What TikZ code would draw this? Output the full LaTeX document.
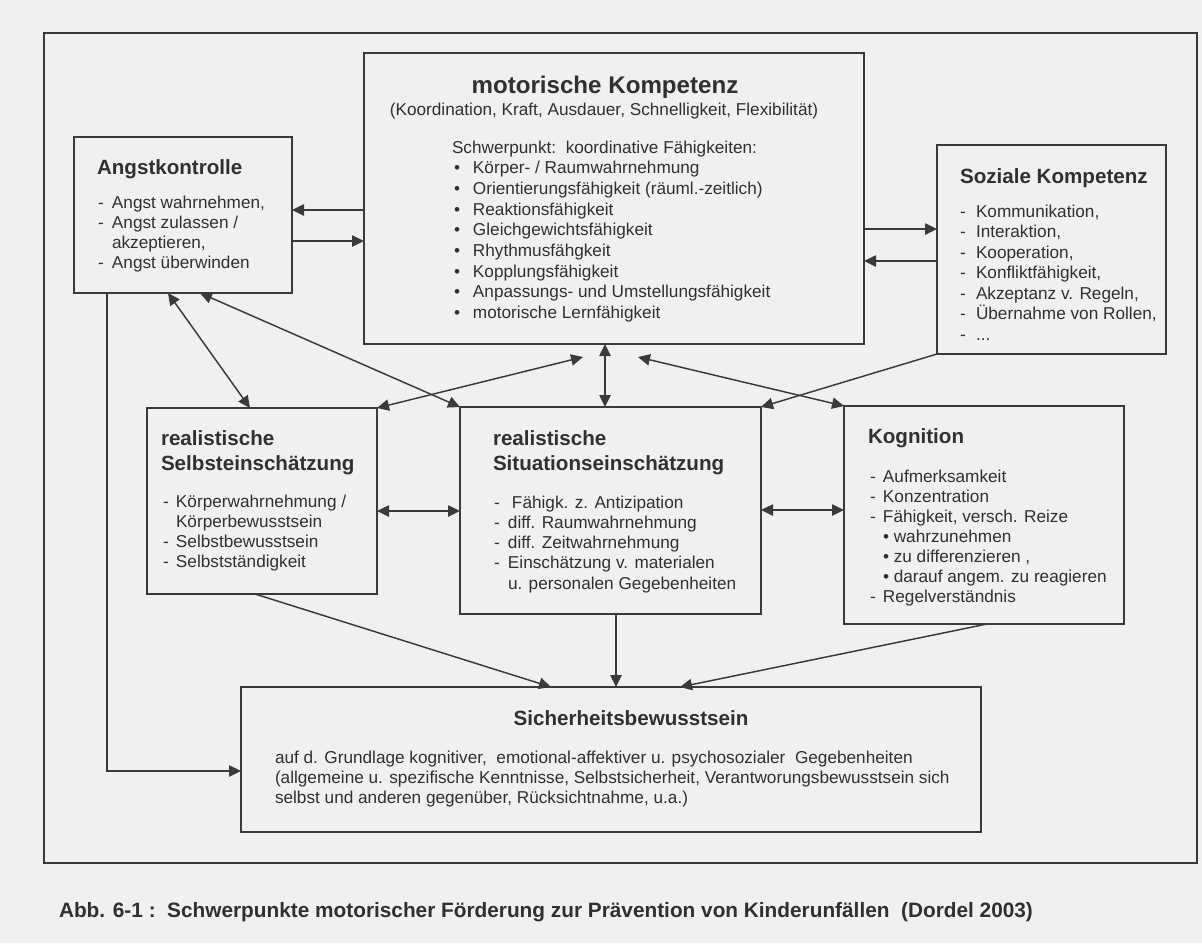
\documentclass[tikz,border=0pt]{standalone}
\usepackage{fontspec}
\setmainfont{Liberation Sans}
\usetikzlibrary{arrows.meta,fit,calc}
\definecolor{paper}{RGB}{240,240,240}
\definecolor{ink}{RGB}{48,48,48}
\definecolor{rule}{RGB}{58,58,58}
% fixed-width lead (dash or bullet) in front of a list line
\newcommand\itm[2]{\makebox[#1][l]{#2}}
\tikzset{
  box/.style={draw=rule, line width=1.2pt, inner sep=0pt, outer sep=0pt},
  outerframe/.style={draw=rule, line width=1.6pt, inner sep=0pt, outer sep=0pt},
  txt/.style={inner sep=0pt, outer sep=0pt, anchor=base west, text=ink,
              font=\fontsize{12.9pt}{15.5pt}\selectfont},
  head/.style={txt, font=\fontsize{15.45pt}{18pt}\selectfont\bfseries},
  bighead/.style={txt, anchor=base, font=\fontsize{18.1pt}{22pt}\selectfont\bfseries},
  conn/.style={draw=rule, line width=1.1pt},
  arr/.style={conn, -{Triangle[length=9pt,width=8.5pt]}},
  darr/.style={conn, {Triangle[length=9pt,width=8.5pt]}-{Triangle[length=9pt,width=8.5pt]}},
}
\begin{document}
\begin{tikzpicture}[x=0.75pt,y=-0.75pt]
\fill[paper] (0,0) rectangle (1202,943);
\useasboundingbox (0,0) rectangle (1202,943);

% frame and boxes
\node[outerframe, fit={(44,33) (1197,863)}] (frm) {};
\node[box, fit={(364,53) (864,344)}] (mk) {};
\node[box, fit={(74,137) (292,293)}] (ak) {};
\node[box, fit={(937,145) (1166,354)}] (sk) {};
\node[box, fit={(147,408) (377,594)}] (se) {};
\node[box, fit={(460,407) (761,614)}] (si) {};
\node[box, fit={(844,406) (1124,624)}] (kg) {};
\node[box, fit={(241,687) (981,832)}] (sb) {};

% motorische Kompetenz
\node[bighead] (mkT) at (605,93) {motorische Kompetenz};
\node[txt, anchor=base] (mkS) at (604,115) {(Koordination, Kraft, Ausdauer, Schnelligkeit, Flexibilität)};
\node[txt] (mkH) at (452,153) {Schwerpunkt:\ \ koordinative Fähigkeiten:};
\foreach \t [count=\i from 0] in {Körper- / Raumwahrnehmung, Orientierungsfähigkeit (räuml.-zeitlich), Reaktionsfähigkeit, Gleichgewichtsfähigkeit, Rhythmusfähgkeit, Kopplungsfähigkeit, Anpassungs- und Umstellungsfähigkeit, motorische Lernfähigkeit}
  \node[txt] (mk\i) at (454,173.7+20.7*\i) {\itm{14.25pt}{•}\t};

% Angstkontrolle
\node[head] (akT) at (97,174) {Angstkontrolle};
\node[txt] (ak0) at (98,208) {\itm{10.5pt}{-}Angst wahrnehmen,};
\node[txt] (ak1) at (98,228) {\itm{10.5pt}{-}Angst zulassen /};
\node[txt] (ak2) at (98,248) {\itm{10.5pt}{}akzeptieren,};
\node[txt] (ak3) at (98,268) {\itm{10.5pt}{-}Angst überwinden};

% Soziale Kompetenz
\node[head] (skT) at (960,183) {Soziale Kompetenz};
\node[txt] (sk0) at (960,217)   {\itm{12pt}{-}Kommunikation,};
\node[txt] (sk1) at (960,237.5) {\itm{12pt}{-}Interaktion,};
\node[txt] (sk2) at (960,258)   {\itm{12pt}{-}Kooperation,};
\node[txt] (sk3) at (960,278.5) {\itm{12pt}{-}Konfliktfähigkeit,};
\node[txt] (sk4) at (960,299)   {\itm{12pt}{-}Akzeptanz v. Regeln,};
\node[txt] (sk5) at (960,319.5) {\itm{12pt}{-}Übernahme von Rollen,};
\node[txt] (sk6) at (960,340)   {\itm{12pt}{-}...};

% realistische Selbsteinschätzung
\node[head] (seT1) at (161,445) {realistische};
\node[head] (seT2) at (161,470) {Selbsteinschätzung};
\node[txt] (se0) at (163,507) {\itm{9.75pt}{-}Körperwahrnehmung /};
\node[txt] (se1) at (163,527) {\itm{9.75pt}{}Körperbewusstsein};
\node[txt] (se2) at (163,547) {\itm{9.75pt}{-}Selbstbewusstsein};
\node[txt] (se3) at (163,567) {\itm{9.75pt}{-}Selbstständigkeit};

% realistische Situationseinschätzung
\node[head] (siT1) at (493,445) {realistische};
\node[head] (siT2) at (493,470) {Situationseinschätzung};
\node[txt] (si0) at (494,508)   {\itm{13.5pt}{-}Fähigk. z. Antizipation};
\node[txt] (si1) at (494,528.3) {\itm{10.5pt}{-}diff. Raumwahrnehmung};
\node[txt] (si2) at (494,548.5) {\itm{10.5pt}{-}diff. Zeitwahrnehmung};
\node[txt] (si3) at (494,568.8) {\itm{10.5pt}{-}Einschätzung v. materialen};
\node[txt] (si4) at (494,589)   {\itm{10.5pt}{}u. personalen Gegebenheiten};

% Kognition
\node[head] (kgT) at (868,443) {Kognition};
\node[txt] (kg0) at (870,482)   {\itm{9.75pt}{-}Aufmerksamkeit};
\node[txt] (kg1) at (870,502.2) {\itm{9.75pt}{-}Konzentration};
\node[txt] (kg2) at (870,522.3) {\itm{9.75pt}{-}Fähigkeit, versch. Reize};
\node[txt] (kg3) at (870,542.5) {\itm{9.75pt}{}• wahrzunehmen};
\node[txt] (kg4) at (870,562.6) {\itm{9.75pt}{}• zu differenzieren ,};
\node[txt] (kg5) at (870,582.8) {\itm{9.75pt}{}• darauf angem. zu reagieren};
\node[txt] (kg6) at (870,602.9) {\itm{9.75pt}{-}Regelverständnis};

% Sicherheitsbewusstsein
\node[head, anchor=base] (sbT) at (631,725) {Sicherheitsbewusstsein};
\node[txt] (sb0) at (275,763) {auf d. Grundlage kognitiver,\ \ emotional-affektiver u. psychosozialer\ \ Gegebenheiten};
\node[txt] (sb1) at (275,783) {(allgemeine u. spezifische Kenntnisse, Selbstsicherheit, Verantworungsbewusstsein sich};
\node[txt] (sb2) at (275,803) {selbst und anderen gegenüber, Rücksichtnahme, u.a.)};

% caption
\node[txt, font=\fontsize{15.6pt}{18pt}\selectfont\bfseries] (cap) at (59,917)
  {Abb. 6-1 :\ \ Schwerpunkte motorischer Förderung zur Prävention von Kinderunfällen\ \ (Dordel 2003)};

% free ends just below the motor box
\coordinate (mkL) at (583,357);
\coordinate (mkR) at (638,357);

% connectors
\draw[arr]  (mk.west |- 0,210) -- (ak.east |- 0,210);
\draw[arr]  (ak.east |- 0,241) -- (mk.west |- 0,241);
\draw[arr]  (mk.east |- 0,229) -- (sk.west |- 0,229);
\draw[arr]  (sk.west |- 0,261) -- (mk.east |- 0,261);
\draw[darr] (ak.south -| 168,0) -- (se.north -| 250,0);
\draw[darr] (ak.south -| 200,0) -- (si.north west);
\draw[darr] (se.north east) -- (mkL);
\draw[darr] (mk.south -| 605,0) -- (si.north -| 605,0);
\draw[darr] (mkR) -- (kg.north west);
\draw[arr]  (sk.south west) -- (si.north east);
\draw[darr] (se.east |- 0,511) -- (si.west |- 0,511);
\draw[darr] (si.east |- 0,510) -- (kg.west |- 0,510);
\draw[arr]  (se.south -| 255,0) -- (sb.north -| 551,0);
\draw[arr]  (si.south -| 616,0) -- (sb.north -| 616,0);
\draw[arr]  (kg.south -| 987,0) -- (sb.north -| 680,0);
\draw[arr]  (ak.south -| 107,0) |- (sb.west |- 0,771);
\end{tikzpicture}
\end{document}
